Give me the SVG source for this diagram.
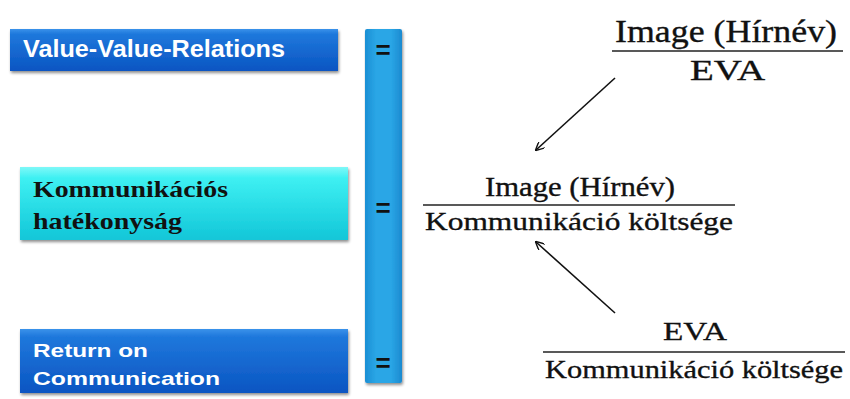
<svg xmlns="http://www.w3.org/2000/svg" width="850" height="399" viewBox="0 0 850 399">
<defs>
<linearGradient id="gBlue" x1="0" y1="0" x2="0" y2="1">
<stop offset="0" stop-color="#3a92ea"/>
<stop offset="0.12" stop-color="#1f78dc"/>
<stop offset="1" stop-color="#0a55c2"/>
</linearGradient>
<linearGradient id="gCyan" x1="0" y1="0" x2="0" y2="1">
<stop offset="0" stop-color="#7ff8f8"/>
<stop offset="0.15" stop-color="#3ef0f2"/>
<stop offset="1" stop-color="#12c6d8"/>
</linearGradient>
<linearGradient id="gBar" x1="0" y1="0" x2="1" y2="0">
<stop offset="0" stop-color="#1b8fd4"/>
<stop offset="0.3" stop-color="#2aa6e6"/>
<stop offset="0.7" stop-color="#2aa6e6"/>
<stop offset="1" stop-color="#1b8ad0"/>
</linearGradient>
<filter id="sh" x="-5%" y="-10%" width="115%" height="130%">
<feGaussianBlur in="SourceAlpha" stdDeviation="1.5"/>
<feOffset dx="1" dy="2"/>
<feComponentTransfer><feFuncA type="linear" slope="0.45"/></feComponentTransfer>
<feMerge><feMergeNode/><feMergeNode in="SourceGraphic"/></feMerge>
</filter>
<marker id="ah" viewBox="0 0 10 10" refX="9" refY="5" markerWidth="9" markerHeight="9" markerUnits="userSpaceOnUse" orient="auto">
<path d="M0,0 L10,5 L0,10" fill="none" stroke="#111" stroke-width="1.6"/>
</marker>
</defs>
<style>
.sans{font-family:"Liberation Sans",Arial,sans-serif;font-weight:bold;fill:#fff}
.bold{font-family:"Liberation Serif","Times New Roman",serif;font-weight:bold;fill:#111}
.ser{font-family:"Liberation Serif","Times New Roman",serif;fill:#111;stroke:#111;stroke-width:0.35}
.eq{font-family:"Liberation Sans",Arial,sans-serif;font-weight:bold;fill:#111;font-size:26px;text-anchor:middle}
.rule{stroke:#222;stroke-width:1.3}
.conn{stroke:#111;stroke-width:1.6;fill:none;marker-end:url(#ah)}
</style>
<rect width="850" height="399" fill="#fff"/>

<g id="bar">
<rect x="365" y="29" width="37" height="354" rx="2" fill="url(#gBar)" filter="url(#sh)"/>
<text class="eq" x="383" y="59">=</text>
<text class="eq" x="383" y="217">=</text>
<text class="eq" x="383" y="372">=</text>
</g>

<g id="value-value-relations">
<rect x="10" y="29" width="328" height="42" fill="url(#gBlue)" filter="url(#sh)"/>
<text class="sans" x="23" y="57" font-size="23" textLength="262" lengthAdjust="spacingAndGlyphs">Value-Value-Relations</text>
</g>

<g id="kommunikacios-hatekonysag">
<rect x="20" y="167" width="328" height="73" fill="url(#gCyan)" filter="url(#sh)"/>
<text class="bold" x="33" y="197" font-size="24" textLength="195" lengthAdjust="spacingAndGlyphs">Kommunikációs</text>
<text class="bold" x="33" y="229" font-size="24" textLength="149" lengthAdjust="spacingAndGlyphs">hatékonyság</text>
</g>

<g id="return-on-communication">
<rect x="20" y="329" width="328" height="64" fill="url(#gBlue)" filter="url(#sh)"/>
<text class="sans" x="33" y="357" font-size="19" textLength="115" lengthAdjust="spacingAndGlyphs">Return on</text>
<text class="sans" x="33" y="385" font-size="19" textLength="187" lengthAdjust="spacingAndGlyphs">Communication</text>
</g>

<g id="fraction-image-eva">
<text class="ser" x="615" y="42" font-size="31" textLength="222" lengthAdjust="spacingAndGlyphs">Image (Hírnév)</text>
<line class="rule" x1="612" y1="51" x2="843" y2="51"/>
<text class="ser" x="690" y="80" font-size="30" textLength="75" lengthAdjust="spacingAndGlyphs">EVA</text>
</g>

<g id="fraction-image-cost">
<text class="ser" x="485" y="196" font-size="27" textLength="190" lengthAdjust="spacingAndGlyphs">Image (Hírnév)</text>
<line class="rule" x1="423" y1="205" x2="735" y2="205"/>
<text class="ser" x="425" y="230" font-size="26" textLength="308" lengthAdjust="spacingAndGlyphs">Kommunikáció költsége</text>
</g>

<g id="fraction-eva-cost">
<text class="ser" x="663" y="340" font-size="26" textLength="64" lengthAdjust="spacingAndGlyphs">EVA</text>
<line class="rule" x1="543" y1="352" x2="845" y2="352"/>
<text class="ser" x="545" y="378" font-size="26" textLength="298" lengthAdjust="spacingAndGlyphs">Kommunikáció költsége</text>
</g>

<g id="connectors">
<line class="conn" x1="615" y1="78" x2="536" y2="150"/>
<line class="conn" x1="615" y1="313" x2="536" y2="242"/>
</g>
</svg>
